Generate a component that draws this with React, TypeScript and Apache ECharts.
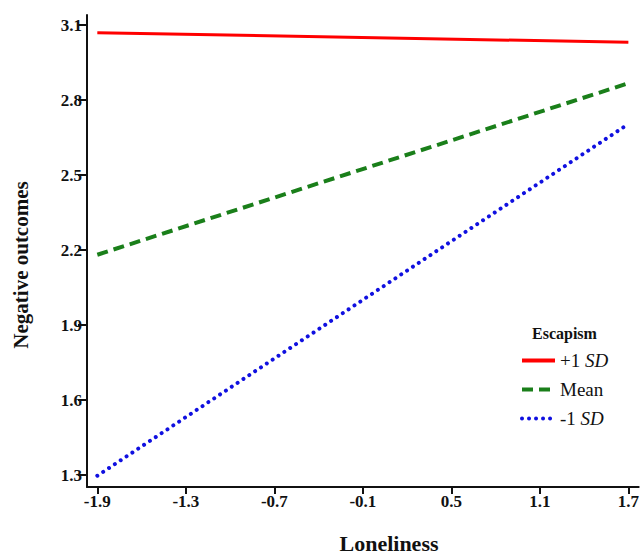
import React, { useEffect, useRef } from "react";
import * as echarts from "echarts";

const xTicks = [-1.9, -1.3, -0.7, -0.1, 0.5, 1.1, 1.7];
const yTicks = [1.3, 1.6, 1.9, 2.2, 2.5, 2.8, 3.1];
const xEnds = [-1.9, 1.7];
const seriesNames = ["+1 SD", "Mean", "-1 SD"];
const highValues = [3.069, 3.031];
const meanValues = [2.181, 2.867];
const lowValues = [1.297, 2.704];

const FONT = "Liberation Serif";

export default function App() {
  const ref = useRef<HTMLDivElement>(null);
  useEffect(() => {
    if (!ref.current) return;
    const chart = echarts.init(ref.current, null, { renderer: "svg" });
    const mk = (vals: number[]) => xEnds.map((x, i) => [x, vals[i]]);
    chart.setOption({
      animation: false,
      backgroundColor: "#ffffff",
      grid: { left: 87, right: 0, top: 15, bottom: 68, containLabel: false },
      title: {
        text: "Escapism",
        left: 532,
        top: 325,
        padding: 0,
        textStyle: { fontFamily: FONT, fontSize: 16, fontWeight: "bold", color: "#111" },
      },
      legend: {
        orient: "vertical",
        left: 520,
        top: 351,
        itemWidth: 33,
        itemHeight: 19,
        itemGap: 10,
        padding: 0,
        data: seriesNames,
        itemStyle: { opacity: 0 },
        lineStyle: { width: 4 },
        formatter: (n: string) => {
          if (n === "+1 SD") return "+1 {i|SD}";
          if (n === "-1 SD") return "-1 {i|SD}";
          return n;
        },
        textStyle: {
          fontFamily: FONT,
          fontSize: 19,
          color: "#111",
          rich: { i: { fontFamily: FONT, fontSize: 19, fontStyle: "italic", color: "#111" } },
        },
      },
      xAxis: {
        type: "value",
        min: -1.97,
        max: 1.77,
        splitLine: { show: false },
        axisLine: { show: true, onZero: false, lineStyle: { color: "#111", width: 2 } },
        axisTick: { show: true, length: 7, customValues: xTicks, lineStyle: { color: "#111", width: 2 } },
        axisLabel: {
          customValues: xTicks,
          margin: 6,
          fontFamily: FONT,
          fontSize: 17,
          fontWeight: "bold",
          color: "#111",
          formatter: (v: number) => v.toFixed(1),
        },
      },
      yAxis: {
        type: "value",
        min: 1.252,
        max: 3.14,
        splitLine: { show: false },
        axisLine: { show: true, onZero: false, lineStyle: { color: "#111", width: 2 } },
        axisTick: { show: true, length: 9, customValues: yTicks, lineStyle: { color: "#111", width: 2 } },
        axisLabel: {
          customValues: yTicks,
          margin: 5,
          fontFamily: FONT,
          fontSize: 17,
          fontWeight: "bold",
          color: "#111",
          formatter: (v: number) => v.toFixed(1),
        },
      },
      graphic: [
        {
          type: "text",
          x: 21,
          y: 265,
          rotation: Math.PI / 2,
          style: {
            text: "Negative outcomes",
            fontFamily: FONT,
            fontSize: 21,
            fontWeight: "bold",
            fill: "#111",
            align: "center",
            verticalAlign: "middle",
          },
        },
        {
          type: "text",
          x: 389,
          y: 543,
          style: {
            text: "Loneliness",
            fontFamily: FONT,
            fontSize: 22,
            fontWeight: "bold",
            fill: "#111",
            align: "center",
            verticalAlign: "middle",
          },
        },
      ],
      series: [
        {
          name: seriesNames[0],
          type: "line",
          data: mk(highValues),
          symbol: "none",
          color: "#ff0000",
          lineStyle: { color: "#ff0000", width: 3 },
        },
        {
          name: seriesNames[1],
          type: "line",
          data: mk(meanValues),
          symbol: "none",
          color: "#1a7f1a",
          lineStyle: { color: "#1a7f1a", width: 4, type: [11, 6] },
        },
        {
          name: seriesNames[2],
          type: "line",
          data: mk(lowValues),
          symbol: "none",
          color: "#1010e0",
          lineStyle: { color: "#1010e0", width: 4, type: [0.01, 7], cap: "round" },
        },
      ],
    });
    return () => chart.dispose();
  }, []);
  return (
    <div
      ref={ref}
      style={{ position: "fixed", left: 0, top: 0, width: 642, height: 555, background: "#fff" }}
    />
  );
}
